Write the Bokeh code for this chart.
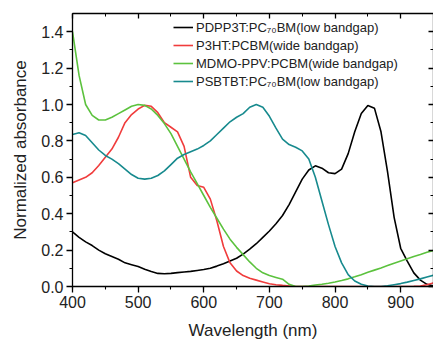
from bokeh.plotting import figure
from bokeh.models import (LinearAxis, SingleIntervalTicker, Range1d, Legend, LegendItem,
                          PrintfTickFormatter, CustomJSTickFormatter)
from bokeh.embed import file_html
from bokeh.resources import INLINE

wavelength = [400, 410, 420, 430, 440, 450, 460, 470, 480, 490, 500, 510, 520, 530, 540,
              550, 560, 570, 580, 590, 600, 610, 620, 630, 640, 650, 660, 670, 680, 690,
              700, 710, 720, 730, 740, 750, 760, 770, 780, 790, 800, 810, 820, 830, 840,
              850, 860, 870, 880, 890, 900, 910, 920, 930, 940, 950]

pdpp3t = [0.30, 0.27, 0.245, 0.225, 0.20, 0.18, 0.165, 0.15, 0.13, 0.12, 0.11, 0.095, 0.082,
          0.072, 0.070, 0.072, 0.076, 0.080, 0.083, 0.088, 0.093, 0.100, 0.112, 0.125, 0.14,
          0.155, 0.178, 0.205, 0.235, 0.27, 0.305, 0.345, 0.39, 0.45, 0.52, 0.59, 0.64, 0.663,
          0.65, 0.625, 0.62, 0.645, 0.73, 0.85, 0.95, 0.995, 0.98, 0.85, 0.63, 0.38, 0.21, 0.14,
          0.075, 0.035, 0.012, 0.003]

p3ht = [0.57, 0.585, 0.60, 0.625, 0.665, 0.71, 0.755, 0.82, 0.90, 0.945, 0.975, 0.995, 0.99,
        0.955, 0.90, 0.875, 0.85, 0.77, 0.60, 0.555, 0.545, 0.48, 0.36, 0.22, 0.13, 0.085,
        0.06, 0.045, 0.035, 0.025, 0.015, 0.01, 0.006, 0.003, 0.0, 0.0, 0.0, 0.0, 0.0, 0.0,
        0.0, 0.0, 0.0, 0.0, 0.0, 0.0, 0.0, 0.0, 0.0, 0.0, 0.0, 0.0, 0.001, 0.003, 0.01, 0.02]

mdmo_ppv = [1.40, 1.16, 1.00, 0.94, 0.915, 0.915, 0.93, 0.95, 0.97, 0.99, 1.0, 0.995, 0.975,
            0.94, 0.895, 0.84, 0.77, 0.70, 0.63, 0.565, 0.50, 0.435, 0.375, 0.315, 0.26,
            0.215, 0.175, 0.135, 0.10, 0.075, 0.06, 0.05, 0.04, 0.012, 0.0, 0.0, 0.002, 0.008,
            0.012, 0.018, 0.025, 0.033, 0.042, 0.053, 0.065, 0.078, 0.09, 0.102, 0.115, 0.128,
            0.14, 0.152, 0.165, 0.176, 0.188, 0.198]

psbtbt = [0.835, 0.845, 0.83, 0.79, 0.75, 0.72, 0.70, 0.675, 0.645, 0.615, 0.595, 0.59, 0.595,
          0.61, 0.635, 0.67, 0.705, 0.725, 0.74, 0.755, 0.775, 0.80, 0.835, 0.87, 0.905, 0.93,
          0.95, 0.985, 1.0, 0.985, 0.935, 0.87, 0.81, 0.78, 0.765, 0.745, 0.70, 0.60, 0.47,
          0.34, 0.22, 0.13, 0.065, 0.03, 0.012, 0.003, 0.0, 0.0, 0.004, 0.01, 0.016, 0.024,
          0.033, 0.042, 0.052, 0.062]

labels = ["PDPP3T:PC\u2087\u2080BM(low bandgap)", "P3HT:PCBM(wide bandgap)",
          "MDMO-PPV:PCBM(wide bandgap)", "PSBTBT:PC\u2087\u2080BM(low bandgap)"]
colors = ["#000000", "#f03c3c", "#5cc23e", "#178a8e"]
series = [pdpp3t, p3ht, mdmo_ppv, psbtbt]

FONT = "Liberation Sans"

p = figure(width=433, height=346, output_backend="svg", toolbar_location=None,
           x_range=Range1d(400, 950), y_range=Range1d(0, 1.5),
           min_border_left=72, min_border_right=0, min_border_top=13, min_border_bottom=60,
           x_axis_label="Wavelength (nm)", y_axis_label="Normalized absorbance")
p.outline_line_color = None
p.grid.visible = False
p.background_fill_color = "white"
p.border_fill_color = "white"

items = []
for y, c, lab in zip(series, colors, labels):
    r = p.line(wavelength, y, line_color=c, line_width=1.6)
    items.append(LegendItem(label=lab, renderers=[r]))

for ax in (p.xaxis[0], p.yaxis[0]):
    ax.axis_line_width = 1.3
    ax.major_tick_line_width = 1.3
    ax.minor_tick_line_width = 1.1
    ax.major_tick_out = 6
    ax.major_tick_in = 0
    ax.minor_tick_out = 3
    ax.minor_tick_in = 0
    ax.major_label_text_font = FONT
    ax.major_label_text_font_size = "16px"
    ax.major_label_text_color = "#222222"
    ax.axis_label_text_font = FONT
    ax.axis_label_text_font_size = "17px"
    ax.axis_label_text_font_style = "normal"
    ax.axis_label_text_color = "#222222"

p.xaxis[0].ticker = SingleIntervalTicker(interval=100, num_minor_ticks=2)
p.yaxis[0].ticker = SingleIntervalTicker(interval=0.2, num_minor_ticks=2)
p.yaxis[0].formatter = PrintfTickFormatter(format="%.1f")
p.xaxis[0].major_label_standoff = 3
p.xaxis[0].axis_label_standoff = 10
p.yaxis[0].major_label_standoff = 3
p.yaxis[0].axis_label_standoff = 8

blank = CustomJSTickFormatter(code="return '';")
top = LinearAxis(ticker=SingleIntervalTicker(interval=100, num_minor_ticks=2),
                 formatter=blank, major_label_standoff=0,
                 major_tick_in=5, major_tick_out=0, minor_tick_in=3, minor_tick_out=0,
                 axis_line_width=1.3, major_tick_line_width=1.3)
p.add_layout(top, "above")
right = LinearAxis(ticker=SingleIntervalTicker(interval=0.2, num_minor_ticks=2),
                   formatter=blank, major_label_standoff=0,
                   major_tick_in=5, major_tick_out=0, minor_tick_in=3, minor_tick_out=0,
                   axis_line_width=1.3, major_tick_line_width=1.3)
p.add_layout(right, "right")

legend = Legend(items=items, location=(101, 196), border_line_color=None,
                background_fill_alpha=0, padding=0, margin=0, spacing=0,
                glyph_width=20, glyph_height=18, label_height=18, label_standoff=3,
                label_text_font=FONT, label_text_font_size="13px",
                label_text_color="#222222")
p.add_layout(legend, "center")

open("out.html", "w").write(file_html(p, INLINE))
